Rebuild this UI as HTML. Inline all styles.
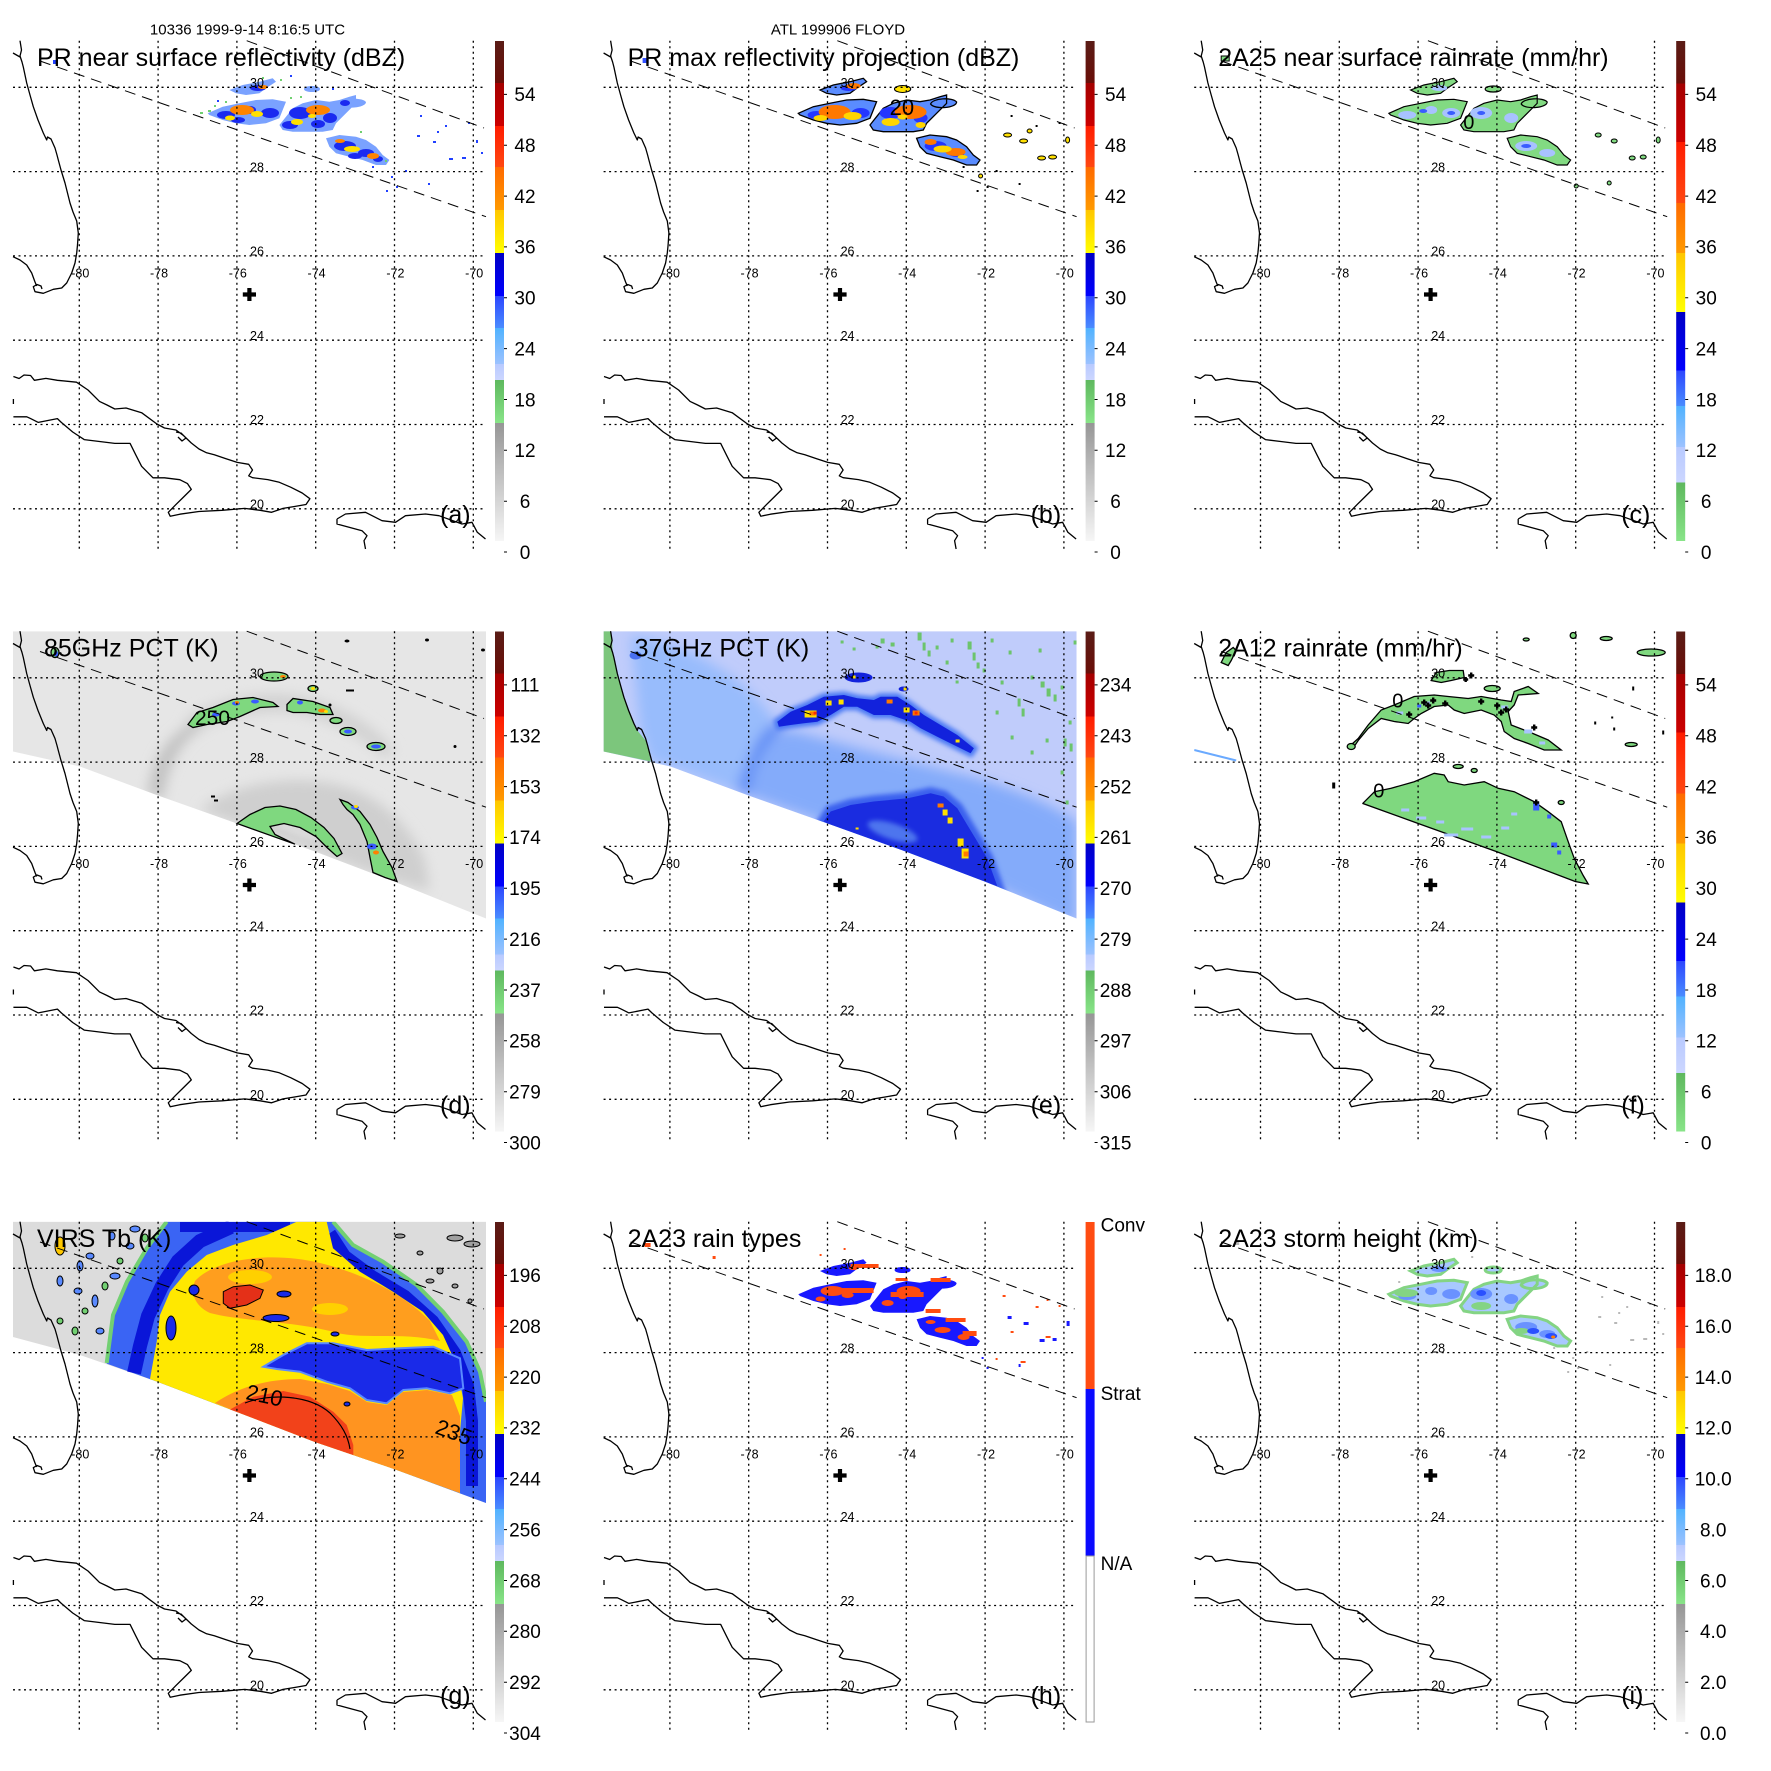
<!DOCTYPE html>
<html><head><meta charset="utf-8">
<style>
html,body{margin:0;padding:0;background:#fff}
svg{display:block}
text{font-family:"Liberation Sans",Arial,Helvetica,sans-serif;fill:#000}
</style></head>
<body>
<svg xmlns="http://www.w3.org/2000/svg" width="1771" height="1771" viewBox="0 0 1771 1771">
<defs>
<clipPath id="mc"><rect x="13" y="40.7" width="473" height="508.3"/></clipPath>
<clipPath id="ce"><path d="M13,40.7 H486 V328 L394,291 L315,261 L237,233 L158,205 L80,176 L13,161 Z"/></clipPath>
<filter id="bl" x="-30%" y="-30%" width="160%" height="160%"><feGaussianBlur stdDeviation="6"/></filter>
<filter id="bl2" x="-30%" y="-30%" width="160%" height="160%"><feGaussianBlur stdDeviation="2.5"/></filter>
<linearGradient id="gA" x1="0" y1="0" x2="0" y2="1">
<stop offset="0" stop-color="#5a1c16"/><stop offset=".084" stop-color="#6a0e08"/>
<stop offset=".084" stop-color="#a40000"/><stop offset=".17" stop-color="#cc0000"/>
<stop offset=".17" stop-color="#ff1c00"/><stop offset=".2525" stop-color="#ff4812"/>
<stop offset=".2525" stop-color="#ff6a00"/><stop offset=".338" stop-color="#ff9a00"/>
<stop offset=".338" stop-color="#ffc600"/><stop offset=".424" stop-color="#ffff00"/>
<stop offset=".424" stop-color="#0000c4"/><stop offset=".51" stop-color="#0000ff"/>
<stop offset=".51" stop-color="#2c46ff"/><stop offset=".574" stop-color="#4a8cff"/>
<stop offset=".574" stop-color="#50b2ff"/><stop offset=".646" stop-color="#9cc2ff"/>
<stop offset=".646" stop-color="#b8caff"/><stop offset=".678" stop-color="#ccd6ff"/>
<stop offset=".678" stop-color="#5eb85e"/><stop offset=".764" stop-color="#88e488"/>
<stop offset=".764" stop-color="#969696"/><stop offset="1" stop-color="#f6f6f6"/>
</linearGradient>
<linearGradient id="gB" x1="0" y1="0" x2="0" y2="1">
<stop offset="0" stop-color="#5a1c16"/><stop offset=".0854" stop-color="#6a0e08"/>
<stop offset=".0854" stop-color="#a40000"/><stop offset=".2019" stop-color="#cc0000"/>
<stop offset=".2019" stop-color="#ff1c00"/><stop offset=".3238" stop-color="#ff4812"/>
<stop offset=".3238" stop-color="#ff6a00"/><stop offset=".4241" stop-color="#ff9a00"/>
<stop offset=".4241" stop-color="#ffc600"/><stop offset=".542" stop-color="#ffff00"/>
<stop offset=".542" stop-color="#0000c4"/><stop offset=".659" stop-color="#0000ff"/>
<stop offset=".659" stop-color="#2c46ff"/><stop offset=".73" stop-color="#4a8cff"/>
<stop offset=".73" stop-color="#50b2ff"/><stop offset=".8117" stop-color="#9cc2ff"/>
<stop offset=".8117" stop-color="#b8caff"/><stop offset=".8828" stop-color="#ccd6ff"/>
<stop offset=".8828" stop-color="#5eb85e"/><stop offset="1" stop-color="#88e488"/>
</linearGradient>

<path id="cl" d="M207.7,113.3 L222.7,106.7 L239.4,103.3 L256,100 L272.7,99.3 L286,101.7 L282.7,110 L279.4,118.3 L266,123.3 L249.4,125 L236,123.3 L222.7,120 L209.4,115 Z
M286,116.7 L292.7,108.3 L302.7,103.3 L316,100 L329.4,101.7 L339.4,100 L349.4,96.7 L356,95 L356,103.3 L346,113.3 L336,123.3 L332.7,130 L322.7,131.7 L306,131.7 L292.7,131.7 L282.7,130 L279.4,125 Z
M326,138.3 L339.4,135 L356,136.7 L366,140 L376,146.7 L382.7,155 L389.4,160 L386,165 L376,165 L362.7,160 L349.4,156.7 L336,153.3 L329.4,146.7 Z
M229.4,90 L242.7,85 L259.4,81.7 L272.7,78.3 L276,81.7 L266,88.3 L259.4,93.3 L246,95 L236,93.3 Z
M304,89 C304,85 320,85 320,89 C320,93 304,93 304,89 Z
M340,104 C342,98 362,97 366,102 C366,108 344,110 340,104 Z"/>

<g id="pb"><ellipse cx="226" cy="115" rx="9" ry="4"/><ellipse cx="270" cy="113" rx="9" ry="5"/><ellipse cx="300" cy="113" rx="11" ry="6"/><ellipse cx="330" cy="118" rx="7" ry="5"/><ellipse cx="345" cy="146" rx="11" ry="5"/><ellipse cx="366" cy="153" rx="8" ry="4"/><ellipse cx="258" cy="88" rx="8" ry="3"/><ellipse cx="250" cy="110" rx="6" ry="4"/></g>
<g id="po"><ellipse cx="242" cy="110" rx="12" ry="5"/><ellipse cx="318" cy="110" rx="12" ry="5"/><ellipse cx="373" cy="156" rx="6" ry="3"/><ellipse cx="263" cy="87" rx="5" ry="2"/><ellipse cx="340" cy="141" rx="5" ry="2"/></g>
<g id="py"><ellipse cx="257" cy="114" rx="6" ry="3"/><ellipse cx="230" cy="118" rx="5" ry="2.5"/><ellipse cx="297" cy="122" rx="6" ry="3"/><ellipse cx="352" cy="149" rx="8" ry="3"/><ellipse cx="312" cy="116" rx="4" ry="2"/></g>
<g id="dots"><rect x="417" y="135" width="3" height="2"/><rect x="433" y="141" width="3" height="2"/><rect x="437" y="131" width="2" height="2"/><rect x="449" y="158" width="4" height="2"/><rect x="462" y="157" width="4" height="2"/><rect x="476" y="140" width="2" height="3"/><rect x="481" y="152" width="2" height="2"/><rect x="405" y="170" width="2" height="2"/><rect x="428" y="183" width="2" height="2"/><rect x="391" y="176" width="2" height="2"/><rect x="396" y="186" width="2" height="2"/><rect x="420" y="115" width="2" height="2"/><rect x="445" y="125" width="2" height="2"/><rect x="468" y="122" width="2" height="2"/><rect x="386" y="190" width="2" height="2"/><rect x="372" y="166" width="2" height="2"/><rect x="332" y="88" width="2" height="2"/><rect x="290" y="75" width="2" height="2"/><rect x="217" y="100" width="2" height="2"/><rect x="53" y="60" width="5" height="4"/></g>

<path id="swE" d="M13,40.7 H486 V328 L394,291 L315,261 L237,233 L158,205 L80,176 L13,161 Z"/>
<path id="swG" d="M13,40.7 H486 V322 L394,288 L315,261 L237,231 L158,201 L80,174 L13,156 Z"/>

<g id="base" fill="none" stroke="#000">
<path stroke-width="1.3" stroke-dasharray="2 3.5" d="M13,87.3H486M13,171.6H486M13,255.9H486M13,340.2H486M13,424.5H486M13,508.8H486M79.3,40.7V549M158.1,40.7V549M236.9,40.7V549M315.7,40.7V549M394.5,40.7V549M473.3,40.7V549"/>
<path stroke-width="1" stroke-dasharray="11 7" d="M246.7,40.7L484,128M40,61L486,216.7"/>
<path stroke-width="1.3" stroke-linejoin="round" d="M20,40.7 L21.5,50 L20,56 L22,62 L23.3,67 L26.7,83 L30,95 L33.3,106.7 L38,120 L43.3,133 L46.7,140 L47.5,137 L51,139 L55,148 L57,155 L58.3,160 L61,170 L65,183 L68,195 L70,203 L73,212 L76.7,221 L78.3,233 L77.5,245 L76.7,253 L75,263 L71.7,273 L66.7,283 L61.7,288 L53.3,289.3 L43.3,293.3 L35,291.7 L33.3,286.7 L37,284.5 L41,286 L42,289
M13,256.7 L20,260 L26.7,265 L31.7,273 L35,282 L36.7,286
M13,53 L20,57
M13.4,376.5 L19.1,378.5 L24,375 L30.6,375.5 L34.4,380.3 L45.9,378.4 L57.4,380.3 L76.5,382.2 L88,390 L99.5,401.4 L107,405 L114.8,409 L126,408 L141.6,412.7 L156.9,424 L164.5,428 L176,430 L183.6,435.6 L191.3,443 L199,449 L206.6,452.8 L214.3,454.7 L225.7,458.6 L237.2,462.4 L248.7,464.3 L252.5,470 L248.7,475.8 L252.5,477.7 L267.8,479.6 L279.3,482.3 L290.7,487.2 L302.2,493 L309.9,498.7 L306,504.5 L294.5,506.5 L283,508.4 L271.6,512.3 L260.2,510.3 L244.8,508.4 L221.9,510.3 L198.9,511.5 L179.8,514.2 L170.2,516.2 L168.3,512.3 L175.9,504.6 L183.6,497 L191.3,489.4 L187.5,483.6 L179.8,479.7 L164.5,477.8 L153,477.8 L141.6,466.3 L135.8,454.9 L130.1,443.4 L114.8,443.4 L99.5,441.5 L84.2,439.6 L72.7,432 L61.3,422.4 L57.4,418.6 L38.3,422.4 L30.6,418.6 L26.8,416.8 L13.4,416.8
M13.4,399 V404
M176,432 L181,433 L186,438 L182,441 L178,437
M337,519 L345.5,514 L365.5,512.3 L382,520.7 L395.5,522.3 L405.5,515.7 L425.5,514 L439,515.7 L462,524 L472,522.3 L477.3,532.3 L485.5,539
M337,519 L337,524 L362,530.7 L367,535.7 L364,540.7 L365.5,549"/>
<path stroke-width="4.2" d="M242.8,294.5H256M249.4,288V301"/>
</g>
</defs>

<rect width="1771" height="1771" fill="#fff"/>

<text x="247.5" y="34.3" font-size="15" text-anchor="middle">10336 1999-9-14 8:16:5 UTC</text>
<text x="838" y="34.3" font-size="15" text-anchor="middle">ATL 199906 FLOYD</text>

<!-- ================= PANEL A ================= -->
<g transform="translate(0,0)">
<g clip-path="url(#mc)">
<use href="#cl" fill="#7aa2ff"/>
<use href="#pb" fill="#1a2af0"/>
<g fill="#1a2af0"><ellipse cx="238" cy="120" rx="7" ry="3"/><ellipse cx="290" cy="125" rx="8" ry="4"/><ellipse cx="318" cy="124" rx="7" ry="4"/><ellipse cx="355" cy="156" rx="7" ry="3"/><ellipse cx="378" cy="159" rx="5" ry="3"/><ellipse cx="345" cy="103" rx="5" ry="3"/></g>
<use href="#po" fill="#ff8400"/>
<use href="#py" fill="#ffe000"/>
<g fill="#70d070"><rect x="208" y="110" width="3" height="2"/><rect x="214" y="105" width="2" height="2"/><rect x="225" y="101" width="2" height="2"/><rect x="290" y="97" width="2" height="2"/><rect x="300" y="96" width="2" height="2"/><rect x="262" y="77" width="2" height="2"/><rect x="280" y="79" width="2" height="2"/><rect x="360" y="131" width="2" height="2"/><rect x="385" y="160" width="2" height="2"/><rect x="200" y="112" width="3" height="2"/></g>
<use href="#dots" fill="#2040ff"/>
</g>
<use href="#base"/>
<text x="37" y="66" font-size="25">PR near surface reflectivity (dBZ)</text>
<text x="440" y="523" font-size="25">(a)</text>
</g>

<!-- ================= PANEL B ================= -->
<g transform="translate(590.6,0)">
<g clip-path="url(#mc)">
<use href="#cl" fill="#5a8cff" stroke="#000" stroke-width="1.3"/>
<use href="#pb" fill="#2436ff"/>
<g fill="#ff7800"><ellipse cx="244" cy="112" rx="16" ry="7"/><ellipse cx="320" cy="112" rx="16" ry="7"/><ellipse cx="365" cy="152" rx="10" ry="4"/><ellipse cx="263" cy="86" rx="7" ry="3"/><ellipse cx="340" cy="142" rx="6" ry="3"/></g>
<g fill="#ffd600"><ellipse cx="262" cy="116" rx="9" ry="4"/><ellipse cx="230" cy="118" rx="7" ry="3"/><ellipse cx="300" cy="122" rx="9" ry="4"/><ellipse cx="352" cy="149" rx="9" ry="3.5"/><ellipse cx="312" cy="117" rx="5" ry="2.5"/><ellipse cx="330" cy="125" rx="5" ry="3"/><ellipse cx="372" cy="157" rx="5" ry="2"/></g>
<g fill="#ffe000" stroke="#000" stroke-width="1"><ellipse cx="417" cy="135" rx="4" ry="2"/><ellipse cx="433" cy="141" rx="4" ry="2"/><ellipse cx="439" cy="131" rx="2.5" ry="2"/><ellipse cx="451" cy="158" rx="4" ry="2"/><ellipse cx="462" cy="157" rx="4" ry="2"/><ellipse cx="477" cy="140" rx="2" ry="3"/><ellipse cx="390" cy="176" rx="2" ry="2"/><ellipse cx="312" cy="89" rx="8" ry="3.5"/></g>
<g fill="#000"><rect x="405" y="170" width="2" height="2"/><rect x="428" y="183" width="2" height="2"/><rect x="396" y="186" width="2" height="2"/><rect x="420" y="115" width="2" height="2"/><rect x="445" y="125" width="2" height="2"/><rect x="468" y="122" width="2" height="2"/><rect x="386" y="190" width="2" height="2"/><rect x="372" y="166" width="2" height="2"/></g>
<rect x="52" y="58" width="6" height="5" fill="#3050ff"/>
</g>
<use href="#base"/>
<text x="299" y="115" font-size="22">20</text>
<text x="37" y="66" font-size="25">PR max reflectivity projection (dBZ)</text>
<text x="440" y="523" font-size="25">(b)</text>
</g>

<!-- ================= PANEL C ================= -->
<g transform="translate(1181.2,0)">
<g clip-path="url(#mc)">
<use href="#cl" fill="#82da82" stroke="#000" stroke-width="1.2"/>
<use href="#pb" fill="#a8c2ff"/>
<g fill="#3a5cff"><ellipse cx="270" cy="113" rx="4" ry="2"/><ellipse cx="300" cy="113" rx="4" ry="2"/><ellipse cx="345" cy="146" rx="5" ry="2"/><ellipse cx="242" cy="111" rx="4" ry="2"/></g>
<g fill="#82da82" stroke="#000" stroke-width="1"><ellipse cx="417" cy="135" rx="3" ry="2"/><ellipse cx="433" cy="141" rx="3" ry="2"/><ellipse cx="451" cy="158" rx="3" ry="2"/><ellipse cx="462" cy="157" rx="3" ry="2"/><ellipse cx="477" cy="140" rx="2" ry="3"/><ellipse cx="395" cy="186" rx="2" ry="2"/><ellipse cx="428" cy="183" rx="2" ry="2"/></g>
<rect x="40" y="56" width="8" height="5" fill="#82da82" stroke="#000"/>
</g>
<use href="#base"/>
<text x="282" y="129" font-size="20">0</text>
<text x="37" y="66" font-size="25">2A25 near surface rainrate (mm/hr)</text>
<text x="440" y="523" font-size="25">(c)</text>
</g>

<!-- ================= PANEL D ================= -->
<g transform="translate(0,590.5)">
<g clip-path="url(#mc)">
<use href="#swE" fill="#e6e6e6"/>
<g clip-path="url(#ce)">
<g filter="url(#bl)">
<path d="M185,128 C210,112 250,100 290,104 C330,108 370,130 395,160 L385,168 C360,145 330,128 290,122 C250,120 215,130 195,142 Z" fill="#d2d2d2"/>
<path d="M148,204 C150,175 162,150 192,132 L205,136 C180,150 168,175 163,209 Z" fill="#c2c2c2"/>
<path d="M200,219 C230,195 290,182 340,195 C380,205 410,235 425,270 L430,300 L394,291 L315,261 L237,233 Z" fill="#cfcfcf"/>
</g>
<ellipse cx="300" cy="238" rx="30" ry="8" fill="#dadada" transform="rotate(20 300 238)" filter="url(#bl2)"/>
</g>
<g fill="#7fd87f" stroke="#000" stroke-width="1.3">
<path d="M188,134 L197,122 L213,117 L233,109 L253,107 L273,112 L278,116 L260,117 L240,126 L227,131 L207,134 L193,137 Z"/>
<path d="M287,114 L293,108 L313,111 L330,117 L333,124 L320,124 L307,122 L293,122 L287,120 Z"/>
<ellipse cx="336" cy="130" rx="6" ry="3"/><ellipse cx="348" cy="141" rx="8" ry="4"/><ellipse cx="376" cy="156" rx="9" ry="4"/><ellipse cx="274" cy="86" rx="14" ry="4.5"/><ellipse cx="313" cy="98" rx="5" ry="3"/>
<path d="M237,233 L250,224 L265,217 L280,215.5 L296,219 L311,227 L324,237 L334,248 L342,263 L337,266 L327,257 L316,246 L300,237 L284,233 L270,236 L275,244 L295,253.7 Z"/>
<path d="M340,209 L348,212 L360,221 L370,234 L377,247 L383,261 L392,277 L397,291 L385,287 L373,282 L370,267 L367,251 L360,234 L353,224 L347,219 L343,214 Z"/>
<ellipse cx="55" cy="62" rx="4" ry="5"/>
</g>
<g fill="#3a5cff"><ellipse cx="236" cy="113" rx="4" ry="2"/><ellipse cx="255" cy="111" rx="4" ry="2"/><ellipse cx="216" cy="124" rx="4" ry="2"/><ellipse cx="300" cy="112" rx="3" ry="2"/><ellipse cx="372" cy="256" rx="5" ry="3"/><ellipse cx="355" cy="217" rx="4" ry="2"/><ellipse cx="348" cy="141" rx="4" ry="2"/><ellipse cx="376" cy="156" rx="5" ry="2"/><ellipse cx="56" cy="63" rx="2" ry="3"/></g>
<g fill="#ff8000"><ellipse cx="237" cy="112" rx="2" ry="1.5"/><ellipse cx="322" cy="120" rx="4" ry="2"/><ellipse cx="376" cy="262" rx="3" ry="2"/><ellipse cx="283" cy="86" rx="3" ry="1.5"/></g>
<g fill="#ffe000"><ellipse cx="326" cy="121" rx="2" ry="1.5"/><ellipse cx="356" cy="216" rx="2" ry="1.5"/><ellipse cx="313" cy="98" rx="2" ry="1.5"/></g>
<g fill="#000"><ellipse cx="347" cy="50.5" rx="2.5" ry="1.5"/><ellipse cx="427" cy="49.5" rx="2" ry="1.5"/><ellipse cx="483" cy="59.5" rx="2" ry="1.5"/><ellipse cx="455" cy="156" rx="1.5" ry="1.5"/><rect x="346" y="99" width="8" height="2"/><ellipse cx="330" cy="114.5" rx="1.5" ry="1.5"/><rect x="211" y="205" width="4" height="2"/><rect x="214" y="209" width="4" height="2"/></g>
</g>
<use href="#base"/>
<text x="195" y="134.5" font-size="21">250</text>
<text x="44" y="66" font-size="25">85GHz PCT (K)</text>
<text x="440" y="523" font-size="25">(d)</text>
</g>

<!-- ================= PANEL E ================= -->
<g transform="translate(590.6,590.5)">
<g clip-path="url(#mc)">
<use href="#swE" fill="#c0ccfb"/>
<g clip-path="url(#ce)">
<g filter="url(#bl)">
<path d="M40,45 C110,55 170,100 185,135 C172,150 162,175 157,205 L80,176 L60,171 L50,140 Z" fill="#98bcfc"/>
<path d="M143,199 C150,172 172,150 200,140 C240,150 320,172 380,186 C430,200 470,218 486,232 L486,335 L394,291 L315,261 L237,233 L158,205 Z" fill="#84abfa"/>
<path d="M187,131 C170,140 158,160 150,200 L158,205 C163,170 175,150 195,138 Z" fill="#5a88f4"/>
</g>
<path d="M233,231 L240,221 L260,214.5 L283,211 L317,207.8 L340,202.8 L353,206 L366.7,217.8 L376.7,234.5 L386.7,251 L396.7,268 L406.7,295.6 L394,291 L315,261 L237,233 Z" fill="#3a60ee" stroke="#3a60ee" stroke-width="12" filter="url(#bl2)"/>
<path d="M233,231 L240,221 L260,214.5 L283,211 L317,207.8 L340,202.8 L353,206 L366.7,217.8 L376.7,234.5 L386.7,251 L396.7,268 L406.7,295.6 L394,291 L315,261 L237,233 Z" fill="#1a2ce0"/>
<ellipse cx="302" cy="241" rx="26" ry="8" fill="#4e74ee" transform="rotate(18 302 241)" filter="url(#bl2)"/>
</g>
<path d="M13,40.7 L20,40.7 L21.5,50 L22,62 L23.3,67 L26.7,83 L33.3,106.7 L43.3,133 L46.7,140 L55,150 L58.3,160 L60,171 L13,161 Z" fill="#7cc67c"/>
<ellipse cx="45" cy="65" rx="6" ry="4" fill="#4a70f0"/>
<path d="M186.7,131.2 L200,121.2 L216.7,114.5 L233.3,106.2 L253.3,104.5 L266.7,107.8 L283.3,109.5 L290,106.2 L306.7,106.2 L320,114.5 L333.3,124.5 L350,134.5 L366.7,144.5 L383.3,157.8 L380,162.8 L363.3,154.5 L346.7,146.2 L330,137.8 L320,131.2 L300,124.5 L283.3,124.5 L266.7,116.2 L253.3,116.2 L240,124.5 L226.7,131.2 L213.3,132.8 L200,134.5 L188.3,136.2 Z" fill="#4a78f4" stroke="#4a78f4" stroke-width="7" filter="url(#bl2)"/>
<path d="M186.7,131.2 L200,121.2 L216.7,114.5 L233.3,106.2 L253.3,104.5 L266.7,107.8 L283.3,109.5 L290,106.2 L306.7,106.2 L320,114.5 L333.3,124.5 L350,134.5 L366.7,144.5 L383.3,157.8 L380,162.8 L363.3,154.5 L346.7,146.2 L330,137.8 L320,131.2 L300,124.5 L283.3,124.5 L266.7,116.2 L253.3,116.2 L240,124.5 L226.7,131.2 L213.3,132.8 L200,134.5 L188.3,136.2 Z" fill="#1222dc"/>
<ellipse cx="268" cy="87" rx="14" ry="5" fill="#1222dc"/>
<ellipse cx="313" cy="98.5" rx="5" ry="2.5" fill="#1222dc"/>
<g fill="#ffe000"><rect x="214" y="120" width="12" height="7"/><rect x="235" y="110" width="6" height="5"/><rect x="248" y="109" width="5" height="5"/><rect x="313" y="117" width="6" height="5"/><rect x="365" y="149" width="4" height="3"/><rect x="262" y="85" width="3" height="3"/><rect x="313" y="97" width="3" height="3"/><rect x="352" y="219" width="5" height="6"/><rect x="357" y="227" width="5" height="6"/><rect x="367" y="248" width="6" height="8"/><rect x="371" y="258" width="7" height="10"/><rect x="265" y="237" width="3" height="2"/></g>
<g fill="#ff7a00"><rect x="219" y="121" width="6" height="4"/><rect x="296" y="109" width="6" height="4"/><rect x="322" y="120" width="7" height="5"/><rect x="347" y="213" width="6" height="4"/><rect x="373" y="261" width="5" height="5"/></g>
<g fill="#ff3000"><rect x="223" y="121" width="3" height="3"/><rect x="324" y="121" width="3" height="3"/></g>
<g fill="#6cc46c"><rect x="290" y="48" width="4" height="5"/><rect x="300" y="52" width="4" height="4"/><rect x="327" y="42" width="4" height="8"/><rect x="332" y="52" width="3" height="8"/><rect x="337" y="60" width="3" height="6"/><rect x="345" y="55" width="3" height="4"/><rect x="355" y="70" width="3" height="4"/><rect x="360" y="48" width="3" height="4"/><rect x="377" y="51" width="4" height="8"/><rect x="382" y="62" width="3" height="8"/><rect x="386" y="72" width="3" height="6"/><rect x="392" y="78" width="3" height="4"/><rect x="400" y="48" width="3" height="4"/><rect x="410" y="90" width="3" height="4"/><rect x="418" y="60" width="3" height="4"/><rect x="427" y="108" width="3" height="8"/><rect x="431" y="118" width="3" height="8"/><rect x="440" y="85" width="3" height="4"/><rect x="448" y="58" width="3" height="4"/><rect x="450" y="91" width="4" height="6"/><rect x="456" y="98" width="4" height="8"/><rect x="463" y="104" width="3" height="7"/><rect x="470" y="95" width="3" height="4"/><rect x="473" y="148" width="3" height="8"/><rect x="479" y="153" width="3" height="8"/><rect x="478" y="130" width="3" height="4"/><rect x="420" y="145" width="3" height="4"/><rect x="455" y="148" width="3" height="4"/><rect x="470" y="180" width="3" height="4"/><rect x="475" y="210" width="3" height="4"/><rect x="405" y="120" width="3" height="4"/><rect x="483" y="50" width="3" height="4"/><rect x="250" y="50" width="3" height="3"/><rect x="262" y="57" width="3" height="3"/><rect x="285" y="55" width="3" height="3"/><rect x="440" y="160" width="3" height="4"/><rect x="365" y="90" width="3" height="3"/></g>
</g>
<use href="#base"/>
<text x="44" y="66" font-size="25">37GHz PCT (K)</text>
<text x="440" y="523" font-size="25">(e)</text>
</g>

<!-- ================= PANEL F ================= -->
<g transform="translate(1181.2,590.5)">
<g clip-path="url(#mc)">
<g fill="#7fd87f" stroke="#000" stroke-width="1.3">
<path d="M168,156 L177,148 L187,134.5 L200,119.5 L213,114.5 L233,106 L253,104.5 L267,106 L287,108 L300,106 L320,109.5 L330,111 L333,101 L347,96 L357,103 L337,104.5 L333,114.5 L327,121 L330,134.5 L347,141 L367,149.5 L380,159.5 L363,159.5 L347,153 L333,148 L323,141 L320,131 L313,124.5 L300,119.5 L283,123 L273,119.5 L267,114.5 L253,116 L240,123 L233,128 L227,133 L213,131 L200,128 L187,138 L177,150 L173,156 Z"/>
<path d="M181.7,212.8 L193.3,201.2 L210,197.8 L233,191.2 L253,182.8 L263,184.5 L267,191.2 L283,194.5 L303,191.2 L317,197.8 L333,201.2 L353,211.2 L367,221.2 L380,231.2 L387,251.2 L393,267.8 L402,285 L407,293.5 L394,291 L315,261 L237,233 L181.7,213 Z"/>
<path d="M250,90 L255,82 L268,80 L282,80 L283,87 L270,90 L260,92 Z"/>
<ellipse cx="311" cy="98" rx="8" ry="3"/>
<ellipse cx="470" cy="62" rx="14" ry="3.5"/><ellipse cx="425" cy="48" rx="6" ry="2"/><ellipse cx="392" cy="45" rx="3" ry="3"/><ellipse cx="345" cy="49" rx="3" ry="1.5"/>
<path d="M40,72 L45,62 L52,57 L55,60 L50,70 L47,75 Z"/>
<ellipse cx="450" cy="154" rx="6" ry="2"/><ellipse cx="170" cy="156" rx="4" ry="3"/><ellipse cx="277" cy="176" rx="5" ry="2"/><ellipse cx="293" cy="180" rx="3" ry="2"/><ellipse cx="380" cy="212" rx="3" ry="2"/>
</g>
<g fill="#000"><rect x="451" y="96" width="2" height="4"/><rect x="413" y="131" width="2" height="3"/><rect x="430" y="126" width="2" height="2"/><rect x="432" y="137" width="2" height="3"/><rect x="481" y="140" width="2" height="4"/><rect x="386" y="170" width="2" height="2"/><rect x="151" y="192" width="3" height="6"/></g>
<g fill="#a8c4ff"><rect x="215" y="121" width="7" height="3"/><rect x="242" y="111" width="7" height="3"/><rect x="320" y="115" width="7" height="3"/><rect x="343" y="139" width="8" height="4"/><rect x="358" y="151" width="6" height="3"/><rect x="220" y="218" width="8" height="3"/><rect x="235" y="226" width="10" height="3"/><rect x="255" y="230" width="8" height="3"/><rect x="280" y="237" width="12" height="3"/><rect x="300" y="245" width="10" height="3"/><rect x="320" y="236" width="8" height="3"/><rect x="263" y="243" width="14" height="3"/><rect x="330" y="222" width="6" height="3"/></g>
<g fill="#3a5cff"><rect x="352" y="212" width="6" height="8"/><rect x="366" y="224" width="4" height="4"/><rect x="370" y="252" width="6" height="5"/><rect x="376" y="260" width="4" height="4"/><rect x="236" y="114" width="4" height="3"/></g>
<path d="M13,159.5 L55,170" stroke="#6aaaff" stroke-width="2"/>
<path stroke="#000" stroke-width="2.4" d="M240,112h6M243,109v6 M244,115h6M247,112v6 M249,110h6M252,107v6 M261,113h6M264,110v6 M225,124h6M228,121v6 M297,111h6M300,108v6 M313,115h6M316,112v6 M317,122h6M320,119v6 M322,119h6M325,116v6 M350,137h6M353,134v6 M287,85h6M290,82v6 M282,89h5M284.5,86.5v5 M352,212h6M355,209v6"/>
</g>
<use href="#base"/>
<text x="211" y="117" font-size="20">0</text>
<text x="192" y="207" font-size="20">0</text>
<text x="37" y="66" font-size="25">2A12 rainrate (mm/hr)</text>
<text x="440" y="523" font-size="25">(f)</text>
</g>

<!-- ================= PANEL G ================= -->
<g transform="translate(0,1181)">
<g clip-path="url(#mc)">
<use href="#swG" fill="#dcdcdc"/>
<path d="M166.7,40.7 L333,40.7 L353,64 L383,80.7 L416.7,104 L443,130.7 L466.7,160.7 L480,190.7 L486,220.7 L486,322 L394,288 L315,261 L237,231 L158,201 L106.7,182.6 L106.7,180.7 L113,134 L127,100.7 L146.7,67.3 Z" fill="#3a64f4"/>
<path d="M166.7,40.7 L146.7,67.3 L127,100.7 L113,134 L106.7,182" fill="none" stroke="#72d072" stroke-width="4"/>
<path d="M333,40.7 L353,64 L383,80.7 L416.7,104 L443,130.7 L466.7,160.7 L480,190.7 L486,220.7" fill="none" stroke="#72d072" stroke-width="4"/>
<path d="M231,46 L200,60 L178,80 L162,105 L148,135 L140,165 L134,192" fill="none" stroke="#0a16d8" stroke-width="14"/>
<path d="M330,52 L345,75 L372,95 L405,115 L433,140 L455,172 L468,205 L472,240 L472,305" fill="none" stroke="#0a16d8" stroke-width="12"/>
<path d="M180,46 L290,46" stroke="#0a16d8" stroke-width="10"/>
<path d="M296.7,40.7 L326.7,40.7 L333,67.3 L360,90.7 L393,110.7 L423,130.7 L443,154 L456.7,184 L463,217.3 L460,250.7 L458,284 L460,312 L394,288 L315,261 L237,231 L158,201 L150,198 L156.7,160.7 L160,134 L170,110.7 L186.7,90.7 L206.7,74 L233,64 L266.7,54 Z" fill="#ffe800"/>
<path d="M195,100 C215,78 270,70 320,82 C360,92 400,110 430,140 L440,160 C400,150 360,160 330,150 C290,140 240,140 210,132 C195,125 190,112 195,100 Z" fill="#ff9e1e"/>
<ellipse cx="250" cy="96" rx="22" ry="7" fill="#ffd000"/>
<ellipse cx="330" cy="128" rx="18" ry="6" fill="#ffd000"/>
<path d="M215,222 C240,205 270,198 300,198 L327,203 L350,210 L367,221 L387,224 L403,211 L427,209 L452,214 L460,235 L460,312 L394,288 L315,261 L237,231 Z" fill="#ff9420"/>
<path d="M230,228.5 L253.3,215.7 L283.3,210 L310,215.7 L333.3,230.7 L346.7,244 L353.3,264 L353.3,274 L315,261 L237,231 Z" fill="#f2421a"/>
<path d="M245,222 C270,212 310,214 330,232 C342,244 348,255 350,268" fill="none" stroke="#000" stroke-width="1.2"/>
<path d="M223.3,110.7 L233.3,105.7 L250,104 L263.3,109 L260,117.3 L246.7,124 L230,127.3 L223.3,122.3 Z" fill="#e43018" stroke="#000" stroke-width="1"/>
<path d="M263.3,185.7 L283.3,174 L306.7,162.3 L333.3,162.3 L366.7,169 L400,167.3 L433.3,165.7 L460,177.3 L463.3,207.3 L450,212.3 L426.7,207.3 L403.3,209 L386.7,222.3 L366.7,219 L350,207.3 L326.7,200.7 L300,190.7 L276.7,188 Z" fill="#1a2ae8" stroke="#5a8aff" stroke-width="2"/>
<g fill="#1a2ae8" stroke="#000" stroke-width="1"><ellipse cx="276" cy="137" rx="13" ry="3.5"/><ellipse cx="284" cy="113" rx="7" ry="3"/><ellipse cx="171" cy="147" rx="5" ry="12"/><ellipse cx="194" cy="109" rx="5" ry="5"/><ellipse cx="347" cy="223" rx="3" ry="2"/><ellipse cx="335" cy="153" rx="4" ry="2"/></g>
<g stroke="#000" stroke-width="1">
<ellipse cx="60" cy="65" rx="5" ry="9" fill="#ffc800"/>
<g fill="#5a8aff"><ellipse cx="80" cy="85" rx="3" ry="5"/><ellipse cx="90" cy="75" rx="4" ry="3"/><ellipse cx="78" cy="110" rx="4" ry="3"/><ellipse cx="95" cy="120" rx="3" ry="6"/><ellipse cx="60" cy="100" rx="3" ry="5"/><ellipse cx="115" cy="95" rx="5" ry="3"/><ellipse cx="100" cy="150" rx="4" ry="3"/><ellipse cx="130" cy="65" rx="4" ry="3"/><ellipse cx="135" cy="48" rx="5" ry="3"/><ellipse cx="112" cy="55" rx="3" ry="4"/></g>
<g fill="#72d072"><ellipse cx="75" cy="150" rx="3" ry="4"/><ellipse cx="120" cy="80" rx="3" ry="3"/><ellipse cx="145" cy="57" rx="3" ry="4"/><ellipse cx="60" cy="140" rx="3" ry="3"/><ellipse cx="105" cy="105" rx="3" ry="4"/><ellipse cx="85" cy="130" rx="3" ry="3"/></g>
<g fill="#a0a0a0"><ellipse cx="400" cy="55" rx="5" ry="2"/><ellipse cx="420" cy="72" rx="3" ry="2"/><ellipse cx="455" cy="57" rx="8" ry="3"/><ellipse cx="472" cy="63" rx="8" ry="3"/><ellipse cx="440" cy="90" rx="3" ry="3"/><ellipse cx="455" cy="105" rx="3" ry="2"/><ellipse cx="470" cy="120" rx="2" ry="2"/><ellipse cx="430" cy="100" rx="4" ry="2"/></g>
</g>
</g>
<use href="#base"/>
<text x="245" y="218" font-size="22" transform="rotate(12 245 218)">210</text>
<text x="434" y="252" font-size="22" transform="rotate(20 434 252)">235</text>
<text x="37" y="66" font-size="25">VIRS Tb (K)</text>
<text x="440" y="523" font-size="25">(g)</text>
</g>

<!-- ================= PANEL H ================= -->
<g transform="translate(590.6,1181)">
<g clip-path="url(#mc)">
<use href="#cl" fill="#1818ff"/>
<use href="#po" fill="#ff4c10"/>
<use href="#py" fill="#ff4c10"/>
<g fill="#ff4c10"><rect x="233" y="107" width="50" height="5"/><rect x="300" y="111" width="33" height="5"/><rect x="335" y="128" width="15" height="4"/><rect x="355" y="137" width="20" height="4"/><rect x="372" y="150" width="14" height="5"/><rect x="260" y="83" width="28" height="4"/><rect x="340" y="97" width="20" height="4"/><rect x="305" y="97" width="12" height="3"/></g>
<g fill="#1818ff"><rect x="417" y="135" width="4" height="3"/><rect x="433" y="141" width="5" height="3"/><rect x="449" y="158" width="5" height="3"/><rect x="462" y="157" width="4" height="3"/><rect x="476" y="140" width="3" height="5"/><rect x="391" y="176" width="2" height="2"/><rect x="396" y="186" width="2" height="2"/><rect x="428" y="183" width="2" height="3"/></g>
<g fill="#ff4c10"><rect x="412" y="114" width="3" height="2"/><rect x="445" y="125" width="3" height="2"/><rect x="456" y="118" width="2" height="2"/><rect x="468" y="124" width="2" height="2"/><rect x="420" y="150" width="3" height="2"/><rect x="455" y="155" width="5" height="2"/><rect x="405" y="177" width="2" height="2"/><rect x="430" y="180" width="5" height="2"/><rect x="122" y="75" width="3" height="3"/><rect x="229" y="73" width="2" height="2"/><rect x="253" y="67" width="2" height="2"/><rect x="54" y="62" width="6" height="4"/></g>
</g>
<use href="#base"/>
<text x="37" y="66" font-size="25">2A23 rain types</text>
<text x="440" y="523" font-size="25">(h)</text>
</g>

<!-- ================= PANEL I ================= -->
<g transform="translate(1181.2,1181)">
<g clip-path="url(#mc)">
<use href="#cl" fill="#a8c8ff" stroke="#84d484" stroke-width="3"/>
<use href="#pb" fill="#6a92ff"/>
<g fill="#84d484"><ellipse cx="225" cy="112" rx="12" ry="4"/><ellipse cx="300" cy="125" rx="10" ry="4"/><ellipse cx="340" cy="150" rx="8" ry="3"/></g>
<g fill="#2a50ff"><ellipse cx="352" cy="150" rx="6" ry="3"/><ellipse cx="370" cy="155" rx="6" ry="3"/><ellipse cx="300" cy="112" rx="5" ry="3"/></g>
<ellipse cx="372" cy="156" rx="2" ry="1.5" fill="#ff8000"/>
<use href="#dots" fill="#b8b8b8"/>
</g>
<use href="#base"/>
<text x="37" y="66" font-size="25">2A23 storm height (km)</text>
<text x="440" y="523" font-size="25">(i)</text>
</g>

<!-- ================= COLORBARS ================= -->
<g font-size="19" text-anchor="middle">
<g transform="translate(0,0)">
<rect x="495" y="41" width="9" height="500" fill="url(#gA)"/>
<path stroke="#000" d="M504,552h3M504,501.2h3M504,450.3h3M504,399.5h3M504,348.6h3M504,297.8h3M504,246.9h3M504,196.1h3M504,145.2h3M504,94.4h3"/>
<text x="525" y="558.8">0</text><text x="525" y="508">6</text><text x="525" y="457.1">12</text><text x="525" y="406.3">18</text><text x="525" y="355.4">24</text><text x="525" y="304.6">30</text><text x="525" y="253.7">36</text><text x="525" y="202.9">42</text><text x="525" y="152">48</text><text x="525" y="101.2">54</text>
</g>
<g transform="translate(590.6,0)">
<rect x="495" y="41" width="9" height="500" fill="url(#gA)"/>
<path stroke="#000" d="M504,552h3M504,501.2h3M504,450.3h3M504,399.5h3M504,348.6h3M504,297.8h3M504,246.9h3M504,196.1h3M504,145.2h3M504,94.4h3"/>
<text x="525" y="558.8">0</text><text x="525" y="508">6</text><text x="525" y="457.1">12</text><text x="525" y="406.3">18</text><text x="525" y="355.4">24</text><text x="525" y="304.6">30</text><text x="525" y="253.7">36</text><text x="525" y="202.9">42</text><text x="525" y="152">48</text><text x="525" y="101.2">54</text>
</g>
<g transform="translate(1181.2,0)">
<rect x="495" y="41" width="9" height="500" fill="url(#gB)"/>
<path stroke="#000" d="M504,552h3M504,501.2h3M504,450.3h3M504,399.5h3M504,348.6h3M504,297.8h3M504,246.9h3M504,196.1h3M504,145.2h3M504,94.4h3"/>
<text x="525" y="558.8">0</text><text x="525" y="508">6</text><text x="525" y="457.1">12</text><text x="525" y="406.3">18</text><text x="525" y="355.4">24</text><text x="525" y="304.6">30</text><text x="525" y="253.7">36</text><text x="525" y="202.9">42</text><text x="525" y="152">48</text><text x="525" y="101.2">54</text>
</g>
<g transform="translate(0,590.5)">
<rect x="495" y="41" width="9" height="500" fill="url(#gA)"/>
<path stroke="#000" d="M504,552h3M504,501.2h3M504,450.3h3M504,399.5h3M504,348.6h3M504,297.8h3M504,246.9h3M504,196.1h3M504,145.2h3M504,94.4h3"/>
<text x="525" y="558.8">300</text><text x="525" y="508">279</text><text x="525" y="457.1">258</text><text x="525" y="406.3">237</text><text x="525" y="355.4">216</text><text x="525" y="304.6">195</text><text x="525" y="253.7">174</text><text x="525" y="202.9">153</text><text x="525" y="152">132</text><text x="525" y="101.2">111</text>
</g>
<g transform="translate(590.6,590.5)">
<rect x="495" y="41" width="9" height="500" fill="url(#gA)"/>
<path stroke="#000" d="M504,552h3M504,501.2h3M504,450.3h3M504,399.5h3M504,348.6h3M504,297.8h3M504,246.9h3M504,196.1h3M504,145.2h3M504,94.4h3"/>
<text x="525" y="558.8">315</text><text x="525" y="508">306</text><text x="525" y="457.1">297</text><text x="525" y="406.3">288</text><text x="525" y="355.4">279</text><text x="525" y="304.6">270</text><text x="525" y="253.7">261</text><text x="525" y="202.9">252</text><text x="525" y="152">243</text><text x="525" y="101.2">234</text>
</g>
<g transform="translate(1181.2,590.5)">
<rect x="495" y="41" width="9" height="500" fill="url(#gB)"/>
<path stroke="#000" d="M504,552h3M504,501.2h3M504,450.3h3M504,399.5h3M504,348.6h3M504,297.8h3M504,246.9h3M504,196.1h3M504,145.2h3M504,94.4h3"/>
<text x="525" y="558.8">0</text><text x="525" y="508">6</text><text x="525" y="457.1">12</text><text x="525" y="406.3">18</text><text x="525" y="355.4">24</text><text x="525" y="304.6">30</text><text x="525" y="253.7">36</text><text x="525" y="202.9">42</text><text x="525" y="152">48</text><text x="525" y="101.2">54</text>
</g>
<g transform="translate(0,1181)">
<rect x="495" y="41" width="9" height="500" fill="url(#gA)"/>
<path stroke="#000" d="M504,552h3M504,501.2h3M504,450.3h3M504,399.5h3M504,348.6h3M504,297.8h3M504,246.9h3M504,196.1h3M504,145.2h3M504,94.4h3"/>
<text x="525" y="558.8">304</text><text x="525" y="508">292</text><text x="525" y="457.1">280</text><text x="525" y="406.3">268</text><text x="525" y="355.4">256</text><text x="525" y="304.6">244</text><text x="525" y="253.7">232</text><text x="525" y="202.9">220</text><text x="525" y="152">208</text><text x="525" y="101.2">196</text>
</g>
<g transform="translate(590.6,1181)" text-anchor="start">
<rect x="495" y="41" width="9" height="167" fill="#ff4c12"/>
<rect x="495" y="208" width="9" height="167" fill="#0a0aff"/>
<rect x="495.5" y="375" width="8" height="166" fill="#fff" stroke="#999" stroke-width="1"/>
<text x="510" y="50.5">Conv</text><text x="510" y="219">Strat</text><text x="510" y="389">N/A</text>
</g>
<g transform="translate(1181.2,1181)">
<rect x="495" y="41" width="9" height="500" fill="url(#gA)"/>
<path stroke="#000" d="M504,552h3M504,501.2h3M504,450.3h3M504,399.5h3M504,348.6h3M504,297.8h3M504,246.9h3M504,196.1h3M504,145.2h3M504,94.4h3"/>
<text x="532" y="558.8">0.0</text><text x="532" y="508">2.0</text><text x="532" y="457.1">4.0</text><text x="532" y="406.3">6.0</text><text x="532" y="355.4">8.0</text><text x="532" y="304.6">10.0</text><text x="532" y="253.7">12.0</text><text x="532" y="202.9">14.0</text><text x="532" y="152">16.0</text><text x="532" y="101.2">18.0</text>
</g>
</g>

<!-- ================= LAT/LON LABELS ================= -->
<g font-size="12.5">
<g transform="translate(0,0)"><text x="250" y="87">30</text><text x="250" y="171.3">28</text><text x="250" y="255.6">26</text><text x="250" y="339.9">24</text><text x="250" y="424.2">22</text><text x="250" y="508.5">20</text><g text-anchor="middle"><text x="80.3" y="277.5">-80</text><text x="159" y="277.5">-78</text><text x="237.8" y="277.5">-76</text><text x="316.6" y="277.5">-74</text><text x="395.4" y="277.5">-72</text><text x="474.2" y="277.5">-70</text></g></g>
<g transform="translate(590.6,0)"><text x="250" y="87">30</text><text x="250" y="171.3">28</text><text x="250" y="255.6">26</text><text x="250" y="339.9">24</text><text x="250" y="424.2">22</text><text x="250" y="508.5">20</text><g text-anchor="middle"><text x="80.3" y="277.5">-80</text><text x="159" y="277.5">-78</text><text x="237.8" y="277.5">-76</text><text x="316.6" y="277.5">-74</text><text x="395.4" y="277.5">-72</text><text x="474.2" y="277.5">-70</text></g></g>
<g transform="translate(1181.2,0)"><text x="250" y="87">30</text><text x="250" y="171.3">28</text><text x="250" y="255.6">26</text><text x="250" y="339.9">24</text><text x="250" y="424.2">22</text><text x="250" y="508.5">20</text><g text-anchor="middle"><text x="80.3" y="277.5">-80</text><text x="159" y="277.5">-78</text><text x="237.8" y="277.5">-76</text><text x="316.6" y="277.5">-74</text><text x="395.4" y="277.5">-72</text><text x="474.2" y="277.5">-70</text></g></g>
<g transform="translate(0,590.5)"><text x="250" y="87">30</text><text x="250" y="171.3">28</text><text x="250" y="255.6">26</text><text x="250" y="339.9">24</text><text x="250" y="424.2">22</text><text x="250" y="508.5">20</text><g text-anchor="middle"><text x="80.3" y="277.5">-80</text><text x="159" y="277.5">-78</text><text x="237.8" y="277.5">-76</text><text x="316.6" y="277.5">-74</text><text x="395.4" y="277.5">-72</text><text x="474.2" y="277.5">-70</text></g></g>
<g transform="translate(590.6,590.5)"><text x="250" y="87">30</text><text x="250" y="171.3">28</text><text x="250" y="255.6">26</text><text x="250" y="339.9">24</text><text x="250" y="424.2">22</text><text x="250" y="508.5">20</text><g text-anchor="middle"><text x="80.3" y="277.5">-80</text><text x="159" y="277.5">-78</text><text x="237.8" y="277.5">-76</text><text x="316.6" y="277.5">-74</text><text x="395.4" y="277.5">-72</text><text x="474.2" y="277.5">-70</text></g></g>
<g transform="translate(1181.2,590.5)"><text x="250" y="87">30</text><text x="250" y="171.3">28</text><text x="250" y="255.6">26</text><text x="250" y="339.9">24</text><text x="250" y="424.2">22</text><text x="250" y="508.5">20</text><g text-anchor="middle"><text x="80.3" y="277.5">-80</text><text x="159" y="277.5">-78</text><text x="237.8" y="277.5">-76</text><text x="316.6" y="277.5">-74</text><text x="395.4" y="277.5">-72</text><text x="474.2" y="277.5">-70</text></g></g>
<g transform="translate(0,1181)"><text x="250" y="87">30</text><text x="250" y="171.3">28</text><text x="250" y="255.6">26</text><text x="250" y="339.9">24</text><text x="250" y="424.2">22</text><text x="250" y="508.5">20</text><g text-anchor="middle"><text x="80.3" y="277.5">-80</text><text x="159" y="277.5">-78</text><text x="237.8" y="277.5">-76</text><text x="316.6" y="277.5">-74</text><text x="395.4" y="277.5">-72</text><text x="474.2" y="277.5">-70</text></g></g>
<g transform="translate(590.6,1181)"><text x="250" y="87">30</text><text x="250" y="171.3">28</text><text x="250" y="255.6">26</text><text x="250" y="339.9">24</text><text x="250" y="424.2">22</text><text x="250" y="508.5">20</text><g text-anchor="middle"><text x="80.3" y="277.5">-80</text><text x="159" y="277.5">-78</text><text x="237.8" y="277.5">-76</text><text x="316.6" y="277.5">-74</text><text x="395.4" y="277.5">-72</text><text x="474.2" y="277.5">-70</text></g></g>
<g transform="translate(1181.2,1181)"><text x="250" y="87">30</text><text x="250" y="171.3">28</text><text x="250" y="255.6">26</text><text x="250" y="339.9">24</text><text x="250" y="424.2">22</text><text x="250" y="508.5">20</text><g text-anchor="middle"><text x="80.3" y="277.5">-80</text><text x="159" y="277.5">-78</text><text x="237.8" y="277.5">-76</text><text x="316.6" y="277.5">-74</text><text x="395.4" y="277.5">-72</text><text x="474.2" y="277.5">-70</text></g></g>
</g>
</svg>
</body></html>
